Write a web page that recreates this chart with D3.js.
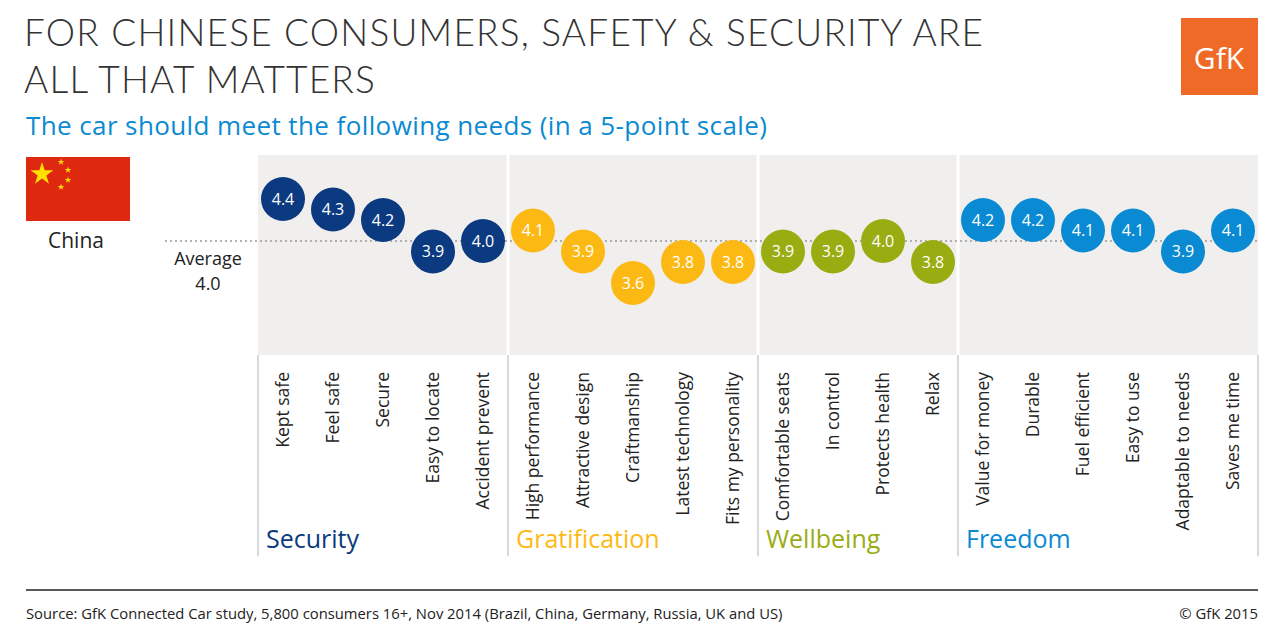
<!DOCTYPE html>
<html><head><meta charset="utf-8">
<script src="https://cdn.jsdelivr.net/npm/d3@7"></script>
<style>body{margin:0;background:#fff}svg{font-family:"Open Sans",sans-serif}</style>
</head><body><svg id="c" width="1280" height="640"></svg>
<script>
const groups = ['Security', 'Gratification', 'Wellbeing', 'Freedom']
const groupColors = ['#0b3a80', '#fdb913', '#99ad12', '#0a8ad2']
const items = ['Kept safe', 'Feel safe', 'Secure', 'Easy to locate', 'Accident prevent',
  'High performance', 'Attractive design', 'Craftmanship', 'Latest technology', 'Fits my personality',
  'Comfortable seats', 'In control', 'Protects health', 'Relax',
  'Value for money', 'Durable', 'Fuel efficient', 'Easy to use', 'Adaptable to needs', 'Saves me time']
const itemGroup = [0,0,0,0,0, 1,1,1,1,1, 2,2,2,2, 3,3,3,3,3,3]
const values = [4.4, 4.3, 4.2, 3.9, 4.0, 4.1, 3.9, 3.6, 3.8, 3.8, 3.9, 3.9, 4.0, 3.8, 4.2, 4.2, 4.1, 4.1, 3.9, 4.1]
const average = 4.0

const svg = d3.select('#c')
var x = d3.scaleBand().domain(items).range([258, 1258])
var y = d3.scaleLinear().domain([3.6, 4.4]).range([283, 199])

// title
svg.append('text').attr('x', 24).attr('y', 46).attr('font-size', 37).attr('font-weight', 300)
  .attr('fill', '#333').attr('font-family', 'Lato').style('letter-spacing', '1.2px').text('FOR CHINESE CONSUMERS, SAFETY & SECURITY ARE')
svg.append('text').attr('x', 24).attr('y', 93).attr('font-size', 37).attr('font-weight', 300)
  .attr('fill', '#333').attr('font-family', 'Lato').style('letter-spacing', '1.2px').text('ALL THAT MATTERS')
svg.append('text').attr('x', 26).attr('y', 135).attr('font-size', 26).attr('fill', '#0a8ad2').style('letter-spacing', '0.4px')
  .text('The car should meet the following needs (in a 5-point scale)')

// logo
svg.append('rect').attr('x', 1181).attr('y', 18).attr('width', 77).attr('height', 77).attr('fill', '#f06a27')
svg.append('text').attr('x', 1219).attr('y', 69).attr('text-anchor', 'middle').attr('font-size', 30)
  .attr('fill', '#fff').text('GfK')

// flag
svg.append('rect').attr('x', 26).attr('y', 157).attr('width', 104).attr('height', 64).attr('fill', '#de2910')
const star = d3.symbol().type(d3.symbolStar)
svg.append('path').attr('d', star.size(160)()).attr('transform', 'translate(42,174)').attr('fill', '#ffde00')
;[[61,162],[68,170],[68,180],[61,187]].forEach(p =>
  svg.append('path').attr('d', star.size(14)()).attr('transform', `translate(${p[0]},${p[1]})`).attr('fill', '#ffde00'))
svg.append('text').attr('x', 76).attr('y', 248).attr('text-anchor', 'middle').attr('font-size', 21).attr('fill', '#222').text('China')

// panel
svg.append('rect').attr('x', 258).attr('y', 155).attr('width', 1000).attr('height', 200).attr('fill', '#f0efee')
const bounds = [0, 5, 10, 14, 20]
bounds.slice(1, 4).forEach(b => svg.append('line').attr('x1', x(items[b])).attr('x2', x(items[b]))
  .attr('y1', 155).attr('y2', 355).attr('stroke', '#fff').attr('stroke-width', 3))
bounds.forEach(b => {
  const xx = b < 20 ? x(items[b]) : 1258
  svg.append('line').attr('x1', xx).attr('x2', xx).attr('y1', 355).attr('y2', 556).attr('stroke', '#ccc').attr('stroke-width', 1.5)
})

// average
svg.append('line').attr('x1', 165).attr('x2', 1258).attr('y1', y(average)).attr('y2', y(average))
  .attr('stroke', '#999').attr('stroke-dasharray', '2,3').attr('stroke-width', 1.5)
svg.append('text').attr('x', 208).attr('y', 265).attr('text-anchor', 'middle').attr('font-size', 18).attr('fill', '#222').text('Average')
svg.append('text').attr('x', 208).attr('y', 290).attr('text-anchor', 'middle').attr('font-size', 18).attr('fill', '#222').text(average.toFixed(1))

// dots
const dot = svg.selectAll('.dot').data(items).enter().append('g')
  .attr('transform', (d, i) => `translate(${x(d) + x.bandwidth() / 2},${y(values[i])})`)
dot.append('circle').attr('r', 22).attr('fill', (d, i) => groupColors[itemGroup[i]])
dot.append('text').attr('text-anchor', 'middle').attr('dy', '0.35em').attr('font-size', 16)
  .attr('fill', '#fff').text((d, i) => values[i].toFixed(1))

// item labels
svg.selectAll('.lab').data(items).enter().append('text')
  .attr('transform', d => `translate(${x(d) + x.bandwidth() / 2 + 6},372) rotate(-90)`)
  .attr('text-anchor', 'end').attr('font-size', 17.5).attr('fill', '#222').text(d => d)

// group labels
groups.forEach((g, i) => svg.append('text').attr('x', x(items[bounds[i]]) + 8).attr('y', 548)
  .attr('font-size', 25).attr('fill', groupColors[i]).text(g))

// footer
svg.append('line').attr('x1', 26).attr('x2', 1258).attr('y1', 590).attr('y2', 590).attr('stroke', '#222').attr('stroke-width', 1.5)
svg.append('text').attr('x', 26).attr('y', 619).attr('font-size', 14.8).attr('fill', '#222')
  .text('Source: GfK Connected Car study, 5,800 consumers 16+, Nov 2014 (Brazil, China, Germany, Russia, UK and US)')
svg.append('text').attr('x', 1258).attr('y', 619).attr('text-anchor', 'end').attr('font-size', 14.8).attr('fill', '#222').text('© GfK 2015')
</script></body></html>
